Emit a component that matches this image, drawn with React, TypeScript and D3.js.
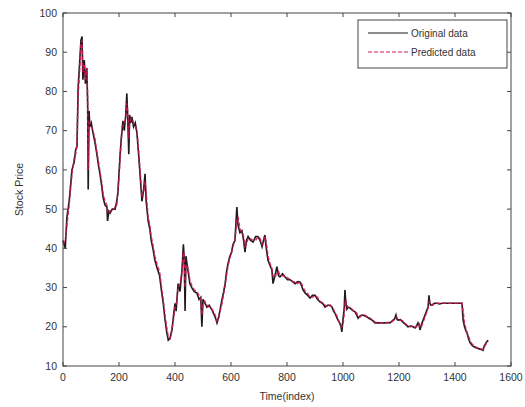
import React from 'react';
import * as d3 from 'd3';

const timeIndex = [
  0, 8, 14, 22, 32, 40, 45, 50, 54, 60, 64, 68, 71, 76, 80, 85, 88, 90, 93, 96,
  101, 107, 114, 121, 127, 132, 138, 143, 150, 157, 159, 164, 168, 176, 186, 192, 196, 200, 204, 208,
  211, 214, 219, 224, 228, 231, 235, 238, 242, 246, 252, 258, 264, 270, 275, 279, 282, 288, 293, 297,
  304, 310, 315, 321, 328, 336, 345, 352, 358, 364, 371, 376, 382, 389, 395, 400, 404, 407, 411, 418,
  425, 430, 433, 436, 439, 446, 453, 460, 468, 478, 486, 492, 496, 500, 507, 514, 522, 532, 540, 546,
  550, 556, 561, 568, 574, 579, 584, 589, 596, 602, 607, 614, 621, 625, 632, 639, 645, 650, 655, 661,
  670, 679, 688, 696, 704, 711, 716, 721, 726, 732, 740, 746, 750, 757, 764, 770, 775, 784, 793, 802,
  811, 820, 829, 838, 846, 852, 857, 866, 874, 882, 891, 900, 909, 918, 927, 936, 945, 954, 961, 966,
  971, 977, 982, 988, 993, 996, 1000, 1004, 1007, 1010, 1014, 1018, 1025, 1032, 1038, 1043, 1049, 1054, 1061, 1068,
  1077, 1086, 1095, 1104, 1110, 1114, 1125, 1139, 1152, 1160, 1168, 1174, 1179, 1184, 1189, 1192, 1196, 1205, 1214, 1220,
  1226, 1232, 1241, 1250, 1257, 1263, 1268, 1272, 1275, 1280, 1286, 1293, 1300, 1304, 1307, 1310, 1314, 1318, 1326, 1336,
  1345, 1354, 1370, 1382, 1400, 1415, 1425, 1429, 1434, 1439, 1443, 1449, 1454, 1462, 1471, 1480, 1489, 1495, 1500, 1504,
  1507, 1512, 1518,
];

const originalPrice = [
  42, 40, 48, 52, 60, 62, 65, 66, 81, 88, 93, 94, 83, 88, 82, 86, 77, 55, 75, 71,
  72, 69.5, 67, 64, 61, 59, 56, 53, 51, 50.5, 47, 49.5, 49, 50, 50, 52, 54, 59, 64, 68,
  70, 72.5, 70, 74, 79.5, 73.5, 64, 74, 72, 73.5, 71, 72, 69.5, 64, 59, 55, 52, 55, 59, 52,
  47, 45, 42, 40, 37, 35, 33, 29, 26, 22, 18.4, 16.6, 17, 19, 23, 26, 24, 27, 31, 29,
  34.5, 41, 37, 24, 38, 34.5, 31, 30, 29, 28.6, 27, 27.5, 20, 27, 26, 25, 25.5, 24.3, 23, 22,
  21, 22.5, 24.3, 27, 29, 31, 34, 36, 38, 39, 41, 42, 50.5, 46, 44, 44.5, 42, 39, 42, 43,
  42, 41.6, 43, 43, 42, 40.4, 42, 43.4, 40, 37, 35.5, 34.5, 31, 33, 35.3, 33, 32.7, 33.5, 32.7, 32,
  32, 31.5, 31, 31.5, 31.4, 30.5, 29.4, 28.5, 28, 27.3, 28, 28, 27, 26.3, 26, 25, 25.5, 25.5, 25, 24,
  23.5, 22.5, 21.7, 21, 20, 18.7, 22, 24.3, 29.4, 26, 24.5, 25, 24.8, 24.3, 24, 23.8, 23, 22.2, 22.8, 23,
  22.8, 22.5, 22, 21.7, 21.3, 21, 21, 21, 21, 21.1, 21, 21.4, 21.7, 22, 23, 22, 21.7, 21.8, 21.2, 20.8,
  20.4, 20, 20.2, 20, 19.7, 20.3, 21, 20.4, 19.2, 20.5, 21.7, 23, 24.3, 25, 28, 26, 25.5, 25.5, 26, 26,
  25.8, 26, 26, 26, 26, 26, 26, 21.7, 20, 19, 18.4, 16.8, 15.9, 15.2, 14.8, 14.5, 14.3, 14.2, 14, 15,
  15.4, 16, 16.6,
];

const predictedPrice = [
  41, 42, 46, 51, 59, 63, 64, 66.5, 79, 86, 92, 93, 85, 87, 83, 86, 79, 60, 72, 72,
  71, 70, 68, 64.5, 62, 59.5, 57, 54, 52, 51, 49, 49, 49.5, 49.5, 50.5, 51, 55, 58, 63, 67,
  71, 71, 72, 73, 77, 75, 68, 72, 73, 73, 72, 71, 70, 65, 60, 56, 53, 54, 57, 54,
  48, 46, 43, 41, 38, 36, 34, 30, 27, 23, 19.5, 17.5, 17, 19.5, 22, 25, 25.5, 27, 30, 31,
  34, 39, 39, 30, 36, 35, 32, 30.5, 29.5, 29, 28, 27, 23, 26, 26.5, 25.5, 25, 24.5, 23.5, 22.5,
  21.5, 22, 24, 26, 28.5, 30.5, 33, 35.5, 37.5, 39, 40.5, 42, 47, 48, 45, 44, 43, 40.5, 41, 42.5,
  42.5, 42, 42, 43, 42.5, 41, 41.5, 43, 41.5, 38, 36, 35, 33, 32.5, 34, 34, 33, 33, 33, 32.5,
  32, 31.5, 31.5, 31, 31.5, 31, 30, 29, 28.5, 27.5, 27.5, 28, 27.5, 26.5, 26, 25.5, 25, 25.5, 25, 24.5,
  23.5, 23, 22, 21, 20.5, 20, 20.5, 23, 26, 27, 25.5, 25, 24.8, 24.5, 24, 23.8, 23.5, 22.5, 22.5, 23,
  23, 22.6, 22.3, 21.8, 21.5, 21.2, 21, 21, 21, 21, 21.1, 21.2, 21.6, 21.8, 22.3, 22.5, 21.8, 21.7, 21.5, 21,
  20.6, 20.2, 20, 20.2, 19.9, 20, 20.6, 20.8, 19.8, 20, 21.2, 22.5, 24, 24.8, 26, 26.5, 25.8, 25.5, 25.8, 26,
  26, 26, 26, 26, 26, 26, 26, 24, 21, 19.5, 18.5, 17.5, 16.3, 15.5, 15, 14.6, 14.4, 14.3, 14.2, 14.5,
  15.2, 15.8, 16.3,
];

const xTickValues = [0, 200, 400, 600, 800, 1000, 1200, 1400, 1600];
const yTickValues = [10, 20, 30, 40, 50, 60, 70, 80, 90, 100];

const width = 525;
const height = 407;
const margin = { top: 13, right: 14, bottom: 41, left: 63 };
const font = '"Liberation Sans", Arial, Helvetica, sans-serif';

const App = () => {
  const x = d3.scaleLinear().domain([0, 1600]).range([margin.left, width - margin.right]);
  const y = d3.scaleLinear().domain([10, 100]).range([height - margin.bottom, margin.top]);

  const original = timeIndex.map((t, i) => [t, originalPrice[i]] as [number, number]);
  const predicted = timeIndex.map((t, i) => [t, predictedPrice[i]] as [number, number]);

  const line = d3.line<[number, number]>()
    .x(d => x(d[0]))
    .y(d => y(d[1]));

  const x0 = x.range()[0];
  const x1 = x.range()[1];
  const y0 = y.range()[0];
  const y1 = y.range()[1];
  const tick = 4;

  return (
    <svg
      width={width}
      height={height}
      style={{ position: 'absolute', left: 0, top: 0, background: '#fff' }}
      fontFamily={font}
    >
      {/* data */}
      <path d={line(original) ?? ''} fill="none" stroke="#1f1a1c" strokeWidth={1.6} />
      <path d={line(predicted) ?? ''} fill="none" stroke="#d4145a" strokeWidth={1.5} strokeDasharray="4,2" opacity={0.85} />

      {/* axes box */}
      <rect x={x0} y={y1} width={x1 - x0} height={y0 - y1} fill="none" stroke="#444" strokeWidth={1} />

      {/* x ticks */}
      {xTickValues.map(t => (
        <g key={`x${t}`}>
          <line x1={x(t)} x2={x(t)} y1={y0} y2={y0 - tick} stroke="#444" />
          <line x1={x(t)} x2={x(t)} y1={y1} y2={y1 + tick} stroke="#444" />
          <text x={x(t)} y={y0 + 15} textAnchor="middle" fontSize={10.5} fill="#333">{t}</text>
        </g>
      ))}

      {/* y ticks */}
      {yTickValues.map(t => (
        <g key={`y${t}`}>
          <line x1={x0} x2={x0 + tick} y1={y(t)} y2={y(t)} stroke="#444" />
          <line x1={x1} x2={x1 - tick} y1={y(t)} y2={y(t)} stroke="#444" />
          <text x={x0 - 6} y={y(t)} dy="0.35em" textAnchor="end" fontSize={10.5} fill="#333">{t}</text>
        </g>
      ))}

      {/* axis labels */}
      <text x={(x0 + x1) / 2} y={height - 7} textAnchor="middle" fontSize={10.5} fill="#333">Time(index)</text>
      <text
        transform={`translate(23,${(y0 + y1) / 2}) rotate(-90)`}
        textAnchor="middle"
        fontSize={10.5}
        fill="#333"
      >
        Stock Price
      </text>

      {/* legend */}
      <g>
        <rect x={358} y={20} width={149} height={48} fill="#fff" stroke="#444" />
        <line x1={368} x2={408} y1={33} y2={33} stroke="#1a1a1a" strokeWidth={1} />
        <text x={411} y={33} dy="0.35em" fontSize={10} fill="#333">Original data</text>
        <line x1={368} x2={408} y1={52} y2={52} stroke="#d4145a" strokeWidth={1} strokeDasharray="4,2" />
        <text x={411} y={52} dy="0.35em" fontSize={10} fill="#333">Predicted data</text>
      </g>
    </svg>
  );
};

export default App;
